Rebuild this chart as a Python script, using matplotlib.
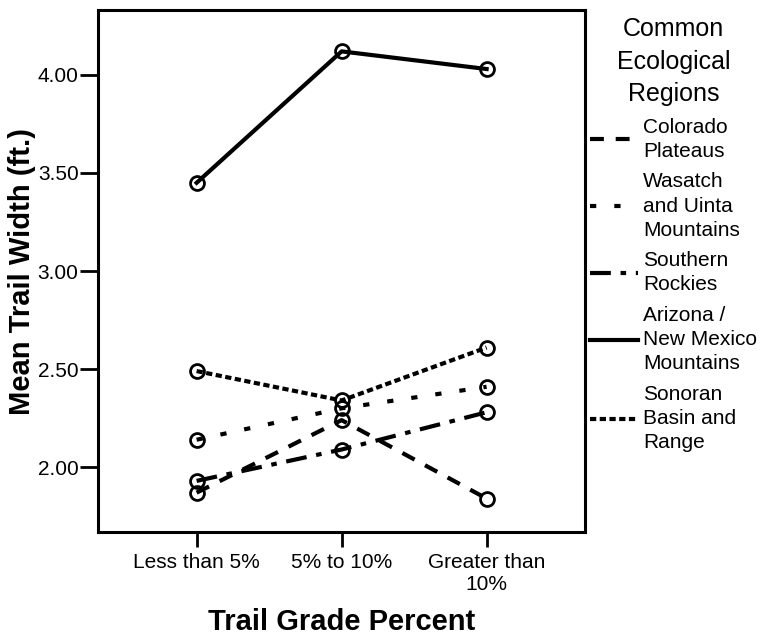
import matplotlib.pyplot as plt

plt.rcParams['font.family'] = ['Liberation Sans', 'DejaVu Sans']
plt.rcParams['lines.scale_dashes'] = False

grades = ['Less than 5%', '5% to 10%', 'Greater than\n10%']
regions = ['Colorado\nPlateaus', 'Wasatch\nand Uinta\nMountains', 'Southern\nRockies',
           'Arizona /\nNew Mexico\nMountains', 'Sonoran\nBasin and\nRange']
colorado = [1.87, 2.24, 1.84]
wasatch = [2.14, 2.30, 2.41]
southern = [1.93, 2.09, 2.28]
arizona = [3.45, 4.12, 4.03]
sonoran = [2.49, 2.34, 2.61]
yticks = [2.0, 2.5, 3.0, 3.5, 4.0]

series = [colorado, wasatch, southern, arizona, sonoran]
styles = [(0, (10, 8.5)), (0, (4.5, 13)), (0, (15, 7, 4, 7)), '-', (0, (4.5, 2.5))]

fig = plt.figure(figsize=(7.6, 6.37), dpi=100)
ax = fig.add_axes([0.129, 0.165, 0.641, 0.819])

x = range(len(grades))
for vals, ls, lab in zip(series, styles, regions):
    ax.plot(x, vals, color='black', linestyle=ls, linewidth=3, label=lab,
            marker='o', markersize=10, markerfacecolor='none',
            markeredgewidth=2, markeredgecolor='black')

ax.set_xlim(-0.68, 2.68)
ax.set_ylim(1.67, 4.33)
ax.set_xticks(list(x))
ax.set_xticklabels(grades, fontsize=15)
ax.set_yticks(yticks)
ax.set_yticklabels(['%.2f' % v for v in yticks], fontsize=15)
ax.tick_params(axis='y', direction='out', length=13, width=2, pad=1)
ax.tick_params(axis='x', direction='out', length=11, width=2, pad=4)
for sp in ax.spines.values():
    sp.set_linewidth(2.2)

ax.set_xlabel('Trail Grade Percent', fontsize=21, fontweight='bold', labelpad=10)
ax.set_ylabel('Mean Trail Width (ft.)', fontsize=21, fontweight='bold', labelpad=1)

leg = fig.legend(loc='upper left', bbox_to_anchor=(590 / 760, 1 - 17 / 637),
                 title='Common\nEcological\nRegions', title_fontsize=18,
                 fontsize=15, frameon=False, borderpad=0, borderaxespad=0,
                 handlelength=2.3, handletextpad=0.25, labelspacing=0.55)
leg.get_title().set_linespacing(1.45)
leg.get_title().set_multialignment('center')
for t in leg.get_texts():
    t.set_linespacing(1.35)
for h in leg.legend_handles:
    h.set_marker('None')

fig.savefig('out.png', dpi=100)
